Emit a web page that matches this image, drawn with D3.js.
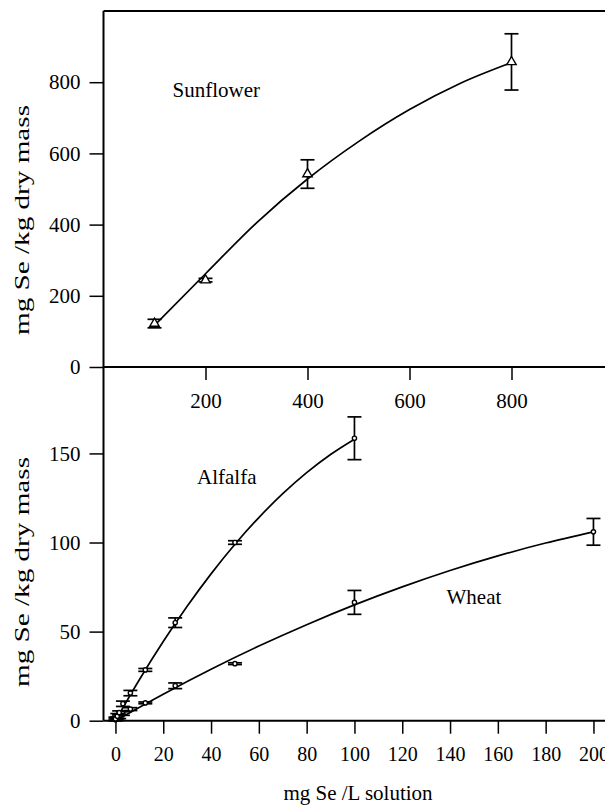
<!DOCTYPE html>
<html>
<head>
<meta charset="utf-8">
<script src="https://cdn.jsdelivr.net/npm/d3@7"></script>
<style>
  body { margin: 0; background: #fff; }
  svg { display: block; }
  text { font-family: "Liberation Serif", "Times New Roman", serif; fill: #000; }
  .tick line { stroke: #000; stroke-width: 1.5; }
</style>
</head>
<body>
<svg id="chart" width="605" height="806"></svg>
<script>
// ---- data ----
// top panel: sunflower
const sunX = [100, 200, 400, 800];
const sunY = [122, 244, 542, 857];
const sunErr = [12, 5, 40, 79];
// fitted curve, read at a few x positions
const sunFitX = [100, 200, 300, 400, 500, 600, 700, 800];
const sunFitY = [117, 262, 405, 528, 633, 723, 797, 855];

// bottom panel: alfalfa and wheat
const alfX = [0, 0.78, 1.56, 3.125, 6.25, 12.5, 25, 50, 100];
const alfY = [1, 2.5, 4.5, 9.5, 15.5, 28.5, 55, 100, 158.5];
const alfErr = [1, 1.5, 1, 1.5, 1.5, 0.8, 2.7, 1, 12];
const alfFitX = [0, 10, 20, 30, 40, 50, 60, 70, 80, 90, 100];
const alfFitY = [0, 23, 44.4, 64.2, 82.4, 99, 114, 127.4, 139.2, 149.4, 158];

const wheatX = [0, 0.78, 1.56, 3.125, 6.25, 12.5, 25, 50, 100, 200];
const wheatY = [0.5, 1.2, 2.2, 4, 6.5, 10, 19.6, 32, 66.4, 106];
const wheatErr = [0.5, 1, 1, 1, 0.8, 0.5, 1.6, 0.5, 6.7, 7.5];
const wheatFitX = [0, 20, 40, 60, 80, 100, 120, 140, 160, 180, 200];
const wheatFitY = [0, 14.9, 28.9, 41.9, 53.9, 65, 75.1, 84.3, 92.5, 99.7, 106];

const topXTicks = [200, 400, 600, 800];
const topYTicks = [0, 200, 400, 600, 800];
const botXTicks = [0, 20, 40, 60, 80, 100, 120, 140, 160, 180, 200];
const botYTicks = [0, 50, 100, 150];

const yTitle = "mg Se /kg dry mass";
const xTitle = "mg Se /L solution";

// ---- layout ----
const svg = d3.select("#chart");
const left = 103.5;
const topTop = 11, topBottom = 367, botBottom = 720.7;

const xTop = d3.scaleLinear().domain([0, 1000]).range([left, 613.5]);
const yTop = d3.scaleLinear().domain([0, 1000]).range([topBottom, topTop]);
const xBot = d3.scaleLinear().domain([-5, 210]).range([left, left + 215 * 2.39]);
const yBot = d3.scaleLinear().domain([0, 198.5]).range([botBottom, topBottom]);

const zip = (xs, ys, es) => xs.map((x, i) => ({ x: x, y: ys[i], e: es ? es[i] : 0 }));

// frame lines
svg.append("line").attr("x1", left).attr("x2", left).attr("y1", topTop).attr("y2", botBottom)
  .attr("stroke", "#000").attr("stroke-width", 2);
[topTop, topBottom, botBottom].forEach(y => {
  svg.append("line").attr("x1", left).attr("x2", 605).attr("y1", y).attr("y2", y)
    .attr("stroke", "#000").attr("stroke-width", 2);
});

// axes
function styleAxis(g, size) {
  g.select(".domain").remove();
  g.selectAll("text").style("font-size", size + "px");
}

svg.append("g").attr("transform", `translate(${left},0)`)
  .call(d3.axisLeft(yTop).tickValues(topYTicks).tickSize(14).tickPadding(9).tickFormat(d3.format("d")))
  .call(g => styleAxis(g, 21));

svg.append("g").attr("transform", `translate(${left},0)`)
  .call(d3.axisLeft(yBot).tickValues(botYTicks).tickSize(14).tickPadding(9).tickFormat(d3.format("d")))
  .call(g => styleAxis(g, 21));

svg.append("g").attr("transform", `translate(0,${topBottom})`)
  .call(d3.axisBottom(xTop).tickValues(topXTicks).tickSize(13).tickPadding(13).tickFormat(d3.format("d")))
  .call(g => styleAxis(g, 21));

svg.append("g").attr("transform", `translate(0,${botBottom})`)
  .call(d3.axisBottom(xBot).tickValues(botXTicks).tickSize(13).tickPadding(13).tickFormat(d3.format("d")))
  .call(g => styleAxis(g, 20));

// titles (the y titles are a bit stretched, as in the scan)
function yLabel(cy) {
  svg.append("text")
    .attr("transform", `translate(29,${cy}) rotate(-90)`)
    .attr("text-anchor", "middle")
    .attr("textLength", 230)
    .attr("lengthAdjust", "spacingAndGlyphs")
    .style("font-size", "22px")
    .text(yTitle);
}
yLabel(220);
yLabel(572);

svg.append("text").attr("x", 358).attr("y", 800).attr("text-anchor", "middle")
  .style("font-size", "21px").text(xTitle);

// series drawing
function drawSeries(pts, fit, xs, ys, shape) {
  const line = d3.line().x(d => xs(d.x)).y(d => ys(d.y)).curve(d3.curveMonotoneX);
  svg.append("path").datum(fit).attr("d", line)
    .attr("fill", "none").attr("stroke", "#000").attr("stroke-width", 1.7);

  const g = svg.append("g").attr("stroke", "#000").attr("stroke-width", 1.7);
  pts.forEach(d => {
    const cx = xs(d.x), y1 = ys(d.y + d.e), y2 = ys(d.y - d.e);
    g.append("line").attr("x1", cx).attr("x2", cx).attr("y1", y1).attr("y2", y2);
    g.append("line").attr("x1", cx - 7).attr("x2", cx + 7).attr("y1", y1).attr("y2", y1);
    g.append("line").attr("x1", cx - 7).attr("x2", cx + 7).attr("y1", y2).attr("y2", y2);
  });

  const sym = d3.symbol().type(shape === "tri" ? d3.symbolTriangle : d3.symbolCircle)
    .size(shape === "tri" ? 38 : 14);
  g.selectAll(null).data(pts).join("path")
    .attr("transform", d => `translate(${xs(d.x)},${ys(d.y)})`)
    .attr("d", sym)
    .attr("fill", "#fff").attr("stroke-width", 1.4);
}

drawSeries(zip(sunX, sunY, sunErr), zip(sunFitX, sunFitY), xTop, yTop, "tri");
drawSeries(zip(wheatX, wheatY, wheatErr), zip(wheatFitX, wheatFitY), xBot, yBot, "circ");
drawSeries(zip(alfX, alfY, alfErr), zip(alfFitX, alfFitY), xBot, yBot, "circ");

// series labels
svg.append("text").attr("x", 172.5).attr("y", 97).style("font-size", "21px").text("Sunflower");
svg.append("text").attr("x", 197).attr("y", 484).style("font-size", "21px").text("Alfalfa");
svg.append("text").attr("x", 446.5).attr("y", 604).style("font-size", "21px").text("Wheat");
</script>
</body>
</html>
